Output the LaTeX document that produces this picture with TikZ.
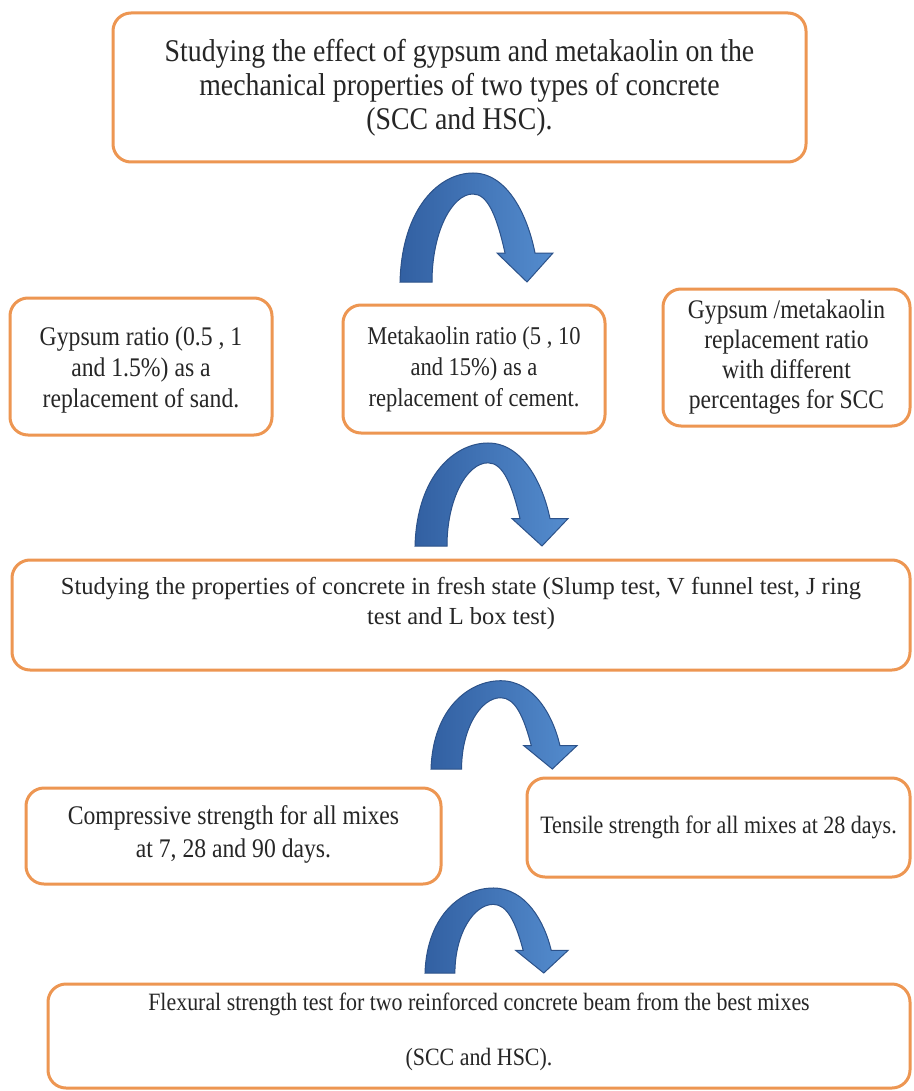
\documentclass[tikz,border=0pt]{standalone}
\usepackage{fontspec}
\setmainfont{Liberation Serif}[FakeStretch=0.88]
\newfontfamily\freshfont{Liberation Serif}
\definecolor{boxorange}{RGB}{237,150,82}
\definecolor{arrowdark}{RGB}{50,96,162}
\definecolor{arrowlight}{RGB}{84,140,206}
\definecolor{arrowedge}{RGB}{44,82,138}
\newcommand\bluearc[4]{%
  \begin{scope}[shift={(#1,#2)},xscale=#3,yscale=-#4]
    \shadedraw[left color=arrowdark,right color=arrowlight,draw=arrowedge,line width=1pt]
      (0,0) .. controls (2,75) and (40,109) .. (73,109)
      .. controls (108,109) and (128,65) .. (135,29)
      -- (153,29) -- (127,0) -- (97,29) -- (105,29)
      .. controls (97,65) and (88,88) .. (73,88)
      .. controls (52,88) and (32,50) .. (32,0) -- cycle;
  \end{scope}}
\tikzset{
  box/.style={draw=boxorange, line width=3pt, rounded corners=18pt, fill=white, inner sep=0pt, rectangle},
  txt/.style={align=center, inner sep=0pt, text=black!85}
}
\begin{document}
\begin{tikzpicture}[x=1pt,y=-1pt]
\useasboundingbox (0,0) rectangle (913,1091);
\fill[white] (0,0) rectangle (913,1091);

% boxes
\node[box, minimum width=693pt, minimum height=149pt] (goal) at (459.5,87.5) {};
\node[box, minimum width=262pt, minimum height=137pt] (gyp) at (141,366.5) {};
\node[box, minimum width=262pt, minimum height=128pt] (meta) at (474,369) {};
\node[box, minimum width=247pt, minimum height=137pt] (mix) at (786.5,357.5) {};
\node[box, minimum width=898pt, minimum height=110pt] (fresh) at (461,615) {};
\node[box, minimum width=415pt, minimum height=96pt] (comp) at (233.5,836) {};
\node[box, minimum width=383pt, minimum height=99pt] (tens) at (718.5,827.5) {};
\node[box, minimum width=862pt, minimum height=104pt] (flex) at (479,1036) {};

% texts
\node[txt, font=\fontsize{31.6}{34}\selectfont] (goalt) at (goal.center)
  {Studying the effect of gypsum and metakaolin on the\\mechanical properties of two types of concrete\\(SCC and HSC).};
\node[txt, font=\fontsize{26.9}{31}\selectfont] (gypt) at ([yshift=-4pt]gyp.center)
  {Gypsum ratio (0.5 , 1\\and 1.5\%) as a\\replacement of sand.};
\node[txt, font=\fontsize{25.6}{31}\selectfont] (metat) at (meta.center)
  {Metakaolin ratio (5 , 10\\and 15\%) as a\\replacement of cement.};
\node[txt, font=\fontsize{26.8}{30}\selectfont] (mixt) at (mix.center)
  {Gypsum /metakaolin\\replacement ratio\\with different\\percentages for SCC};
\node[txt, font=\freshfont\fontsize{24.5}{30}\selectfont] (fresht) at ([yshift=12pt]fresh.center)
  {Studying the properties of concrete in fresh state (Slump test, V funnel test, J ring\\test and L box test)};
\node[txt, font=\fontsize{26.9}{33}\selectfont] (compt) at ([yshift=2pt]comp.center)
  {Compressive strength for all mixes\\at 7, 28 and 90 days.};
\node[txt, font=\fontsize{25}{30}\selectfont] (tenst) at (tens.center)
  {Tensile strength for all mixes at 28 days.};
\node[txt, font=\fontsize{24.9}{55}\selectfont] (flext) at ([yshift=4pt]flex.center)
  {Flexural strength test for two reinforced concrete beam from the best mixes\\(SCC and HSC).};

% curved block arrows
\bluearc{400}{282}{1}{1}
\bluearc{415}{546}{1}{0.945}
\bluearc{431}{769}{0.955}{0.81}
\bluearc{425}{973}{0.935}{0.78}
\end{tikzpicture}
\end{document}
